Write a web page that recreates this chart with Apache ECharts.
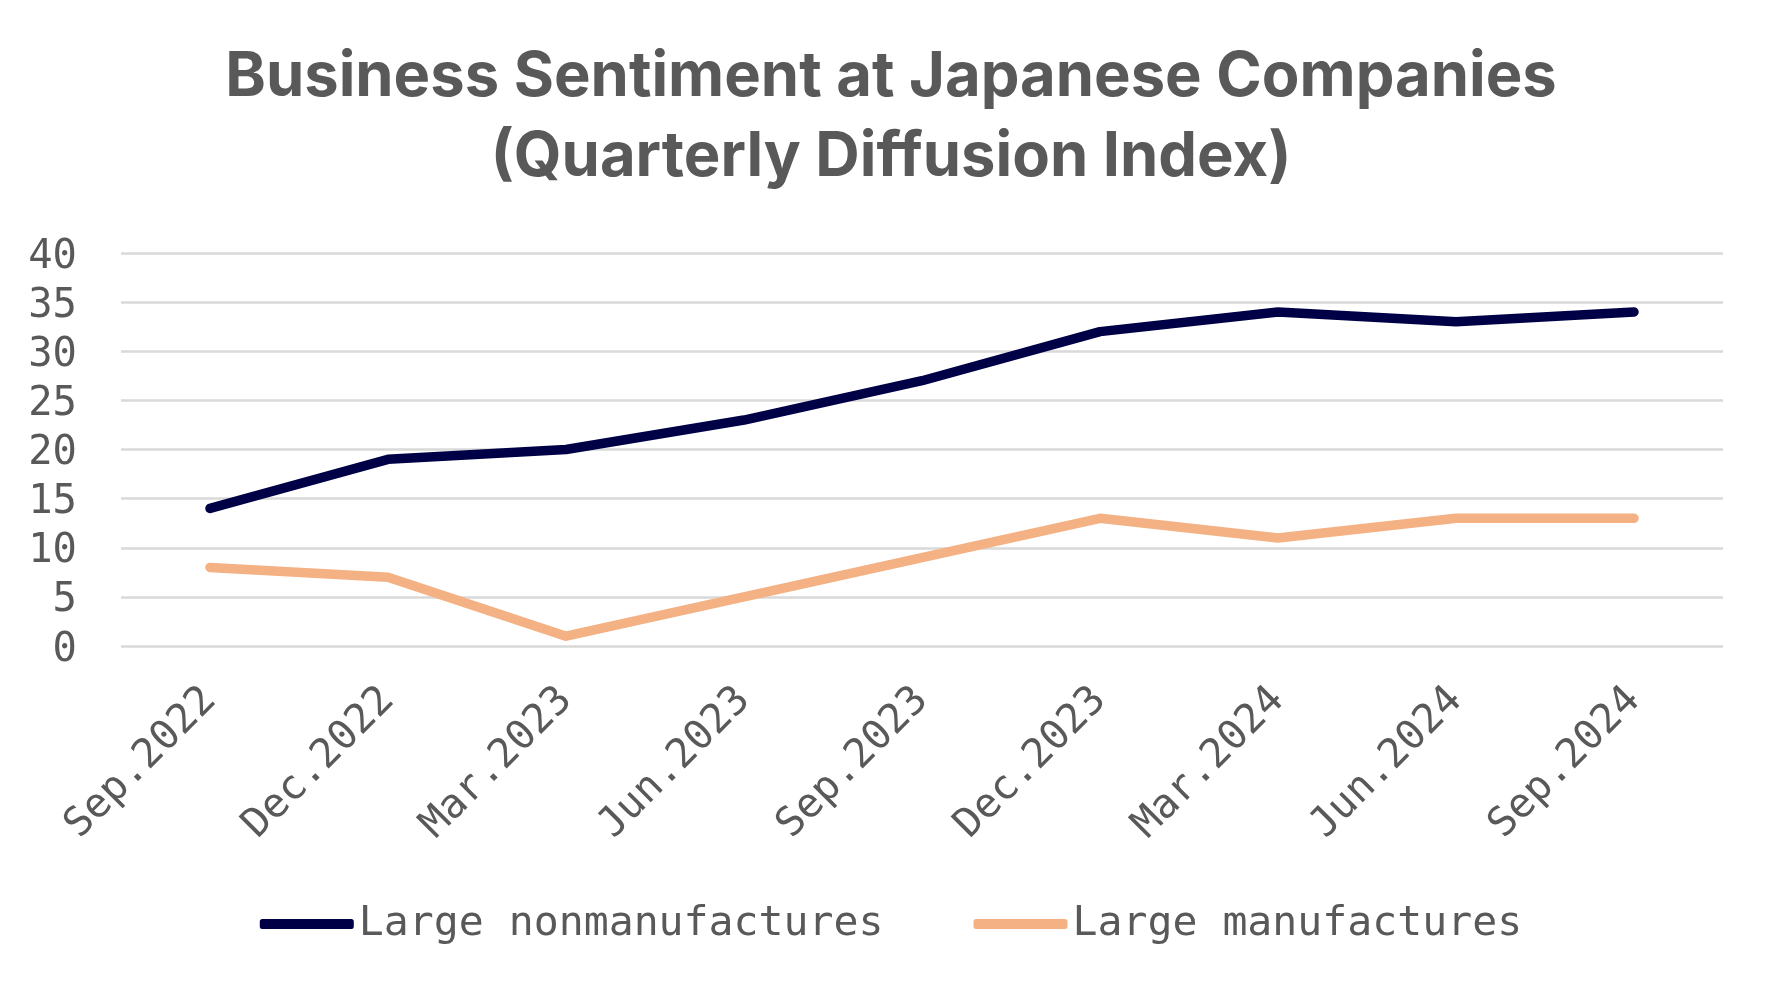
<!DOCTYPE html>
<html>
<head>
<meta charset="utf-8">
<script src="https://cdn.jsdelivr.net/npm/echarts@6/dist/echarts.min.js"></script>
<style>
html,body{margin:0;padding:0;background:#fff;}
#chart{width:1782px;height:990px;}
</style>
</head>
<body>
<div id="chart"></div>
<script>
const categories = ['Sep.2022','Dec.2022','Mar.2023','Jun.2023','Sep.2023','Dec.2023','Mar.2024','Jun.2024','Sep.2024'];
const nonmanufactures = [14, 19, 20, 23, 27, 32, 34, 33, 34];
const manufactures = [8, 7, 1, 5, 9, 13, 11, 13, 13];
const seriesNames = ['Large nonmanufactures', 'Large manufactures'];
const titleText = 'Business Sentiment at Japanese Companies\n(Quarterly Diffusion Index)';

const mono = '"DejaVu Sans Mono", monospace';
const chart = echarts.init(document.getElementById('chart'));
chart.setOption({
  backgroundColor: '#ffffff',
  animation: false,
  title: {
    text: titleText,
    left: 'center',
    top: 33,
    textStyle: {
      fontFamily: 'Inter',
      fontWeight: 'bold',
      fontSize: 61.5,
      lineHeight: 80,
      color: '#595959'
    }
  },
  legend: {
    data: seriesNames,
    left: 'center',
    top: 898,
    itemWidth: 94,
    itemHeight: 10,
    itemGap: 90,
    icon: 'roundRect',
    textStyle: { fontFamily: mono, fontSize: 41.5, color: '#595959' }
  },
  grid: { left: 121, right: 59, top: 253, bottom: 344 },
  xAxis: {
    type: 'category',
    data: categories,
    boundaryGap: true,
    axisLine: { show: false },
    axisTick: { show: false },
    axisLabel: {
      rotate: 45,
      margin: 48,
      fontFamily: mono,
      fontSize: 40.5,
      color: '#595959',
      interval: 0
    }
  },
  yAxis: {
    type: 'value',
    min: 0,
    max: 40,
    interval: 5,
    axisLine: { show: false },
    axisTick: { show: false },
    splitLine: { lineStyle: { color: '#d9d9d9', width: 2.5 } },
    axisLabel: {
      margin: 44,
      formatter: function (v) { return '{n|' + v + '}'; },
      rich: {
        n: {
          fontFamily: mono,
          fontSize: 40.5,
          color: '#595959',
          padding: [8, 0, 0, 0]
        }
      }
    }
  },
  series: [
    {
      name: seriesNames[0],
      type: 'line',
      data: nonmanufactures,
      showSymbol: false,
      symbol: 'none',
      itemStyle: { color: '#000046' },
      lineStyle: { color: '#000046', width: 9.5, cap: 'round', join: 'round' }
    },
    {
      name: seriesNames[1],
      type: 'line',
      data: manufactures,
      showSymbol: false,
      symbol: 'none',
      itemStyle: { color: '#F4B183' },
      lineStyle: { color: '#F4B183', width: 9.5, cap: 'round', join: 'round' }
    }
  ]
});
</script>
</body>
</html>
